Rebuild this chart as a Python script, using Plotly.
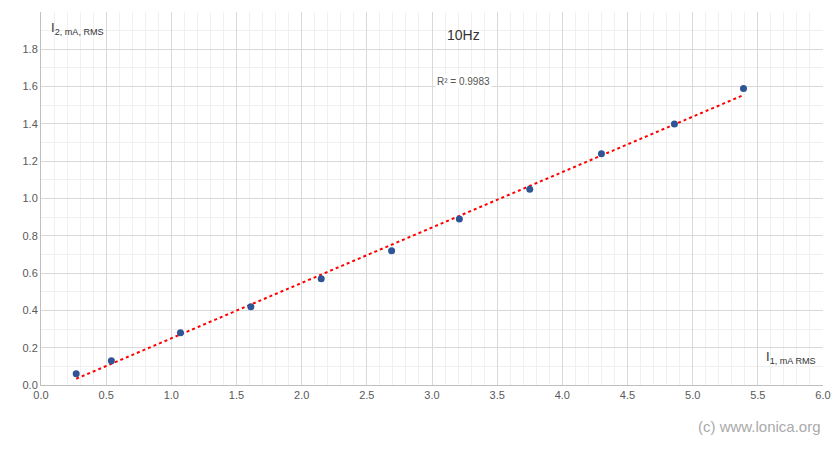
import numpy as np
import plotly.graph_objects as go

i1 = [0.27, 0.54, 1.07, 1.61, 2.15, 2.69, 3.21, 3.75, 4.30, 4.86, 5.39]
i2 = [0.06, 0.13, 0.28, 0.42, 0.57, 0.72, 0.89, 1.05, 1.24, 1.40, 1.59]

k, b = np.polyfit(i1, i2, 1)
tx = np.array([min(i1), max(i1)])
ty = k * tx + b

fig = go.Figure()
fig.add_trace(go.Scatter(x=tx, y=ty, mode="lines",
                         line=dict(color="#ff0000", width=2, dash="dot"), hoverinfo="skip"))
fig.add_trace(go.Scatter(x=i1, y=i2, mode="markers",
                         marker=dict(color="#2f5597", size=7)))

fig.update_layout(
    width=840, height=450, showlegend=False,
    plot_bgcolor="white", paper_bgcolor="white",
    margin=dict(l=33, r=25, t=4, b=73, autoexpand=False),
    font=dict(family="Liberation Sans, Arial", size=11, color="#595959"),
    xaxis=dict(range=[0, 6], dtick=0.5, tickformat=".1f", gridcolor="#d9d9d9",
               showline=True, linecolor="#bfbfbf", zeroline=False, ticks="",
               minor=dict(dtick=0.1, gridcolor="#f0f0f0", showgrid=True)),
    yaxis=dict(range=[0, 2], dtick=0.2, tickformat=".1f", gridcolor="#d9d9d9",
               showline=True, linecolor="#bfbfbf", zeroline=False, ticks="",
               minor=dict(dtick=0.1, gridcolor="#f0f0f0", showgrid=True)),
    annotations=[
        dict(x=0.01, y=0.985, xref="paper", yref="paper", showarrow=False, xanchor="left",
             text="I<sub>2, mA, RMS</sub>", font=dict(size=13, color="#333")),
        dict(x=0.54, y=0.965, xref="paper", yref="paper", showarrow=False,
             text="10Hz", font=dict(size=14, color="#333")),
        dict(x=0.54, y=0.835, xref="paper", yref="paper", showarrow=False,
             text="R² = 0.9983", font=dict(size=10, color="#555"), bgcolor="white"),
        dict(x=0.925, y=0.045, xref="paper", yref="paper", showarrow=False, xanchor="left",
             text="I<sub>1, mA RMS</sub>", font=dict(size=13, color="#333")),
        dict(x=1.0, y=-0.14, xref="paper", yref="paper", showarrow=False, xanchor="right",
             text="(c) www.lonica.org", font=dict(size=15, color="#aaaaaa")),
    ],
)
fig.write_html("out.html")
